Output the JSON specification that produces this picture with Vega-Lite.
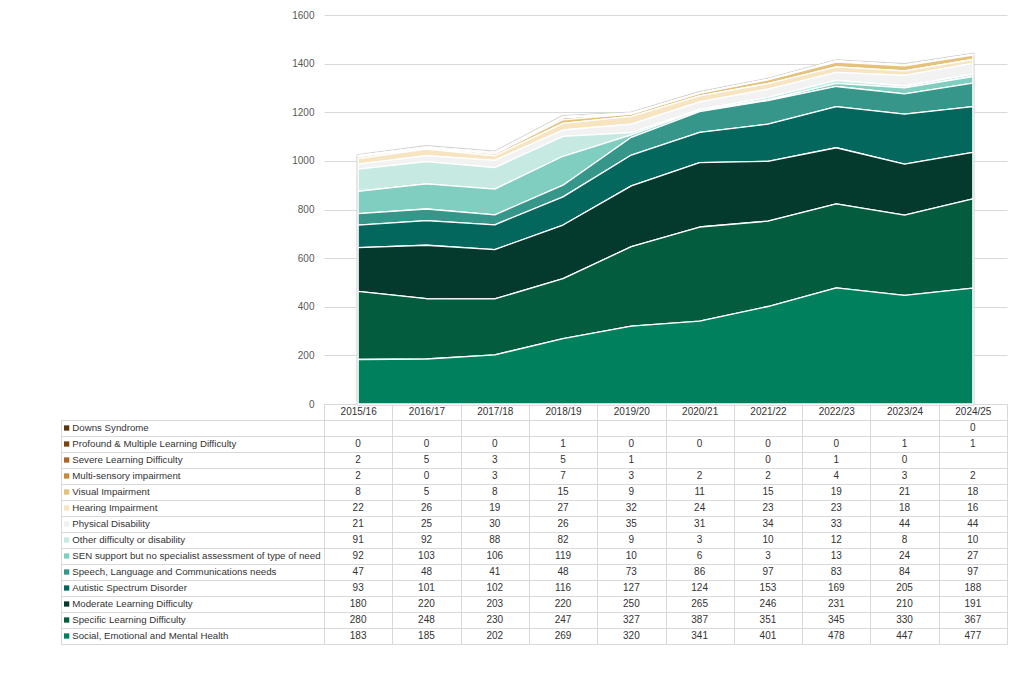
{
  "$schema": "https://vega.github.io/schema/vega-lite/v6.json",
  "padding": {"left": 60, "top": 10, "right": 18, "bottom": 32},
  "background": "white",
  "config": {
    "font": "Liberation Sans",
    "view": {"stroke": null},
    "concat": {"spacing": 0}
  },
  "datasets": {
    "sen": [
      {"s": "Profound & Multiple Learning Difficulty", "y": "2015/16", "v": 0},
      {"s": "Profound & Multiple Learning Difficulty", "y": "2016/17", "v": 0},
      {"s": "Profound & Multiple Learning Difficulty", "y": "2017/18", "v": 0},
      {"s": "Profound & Multiple Learning Difficulty", "y": "2018/19", "v": 1},
      {"s": "Profound & Multiple Learning Difficulty", "y": "2019/20", "v": 0},
      {"s": "Profound & Multiple Learning Difficulty", "y": "2020/21", "v": 0},
      {"s": "Profound & Multiple Learning Difficulty", "y": "2021/22", "v": 0},
      {"s": "Profound & Multiple Learning Difficulty", "y": "2022/23", "v": 0},
      {"s": "Profound & Multiple Learning Difficulty", "y": "2023/24", "v": 1},
      {"s": "Profound & Multiple Learning Difficulty", "y": "2024/25", "v": 1},
      {"s": "Downs Syndrome", "y": "2024/25", "v": 0},
      {"s": "Severe Learning Difficulty", "y": "2015/16", "v": 2},
      {"s": "Severe Learning Difficulty", "y": "2016/17", "v": 5},
      {"s": "Severe Learning Difficulty", "y": "2017/18", "v": 3},
      {"s": "Severe Learning Difficulty", "y": "2018/19", "v": 5},
      {"s": "Severe Learning Difficulty", "y": "2019/20", "v": 1},
      {"s": "Severe Learning Difficulty", "y": "2021/22", "v": 0},
      {"s": "Severe Learning Difficulty", "y": "2022/23", "v": 1},
      {"s": "Severe Learning Difficulty", "y": "2023/24", "v": 0},
      {"s": "Multi-sensory impairment", "y": "2015/16", "v": 2},
      {"s": "Multi-sensory impairment", "y": "2016/17", "v": 0},
      {"s": "Multi-sensory impairment", "y": "2017/18", "v": 3},
      {"s": "Multi-sensory impairment", "y": "2018/19", "v": 7},
      {"s": "Multi-sensory impairment", "y": "2019/20", "v": 3},
      {"s": "Multi-sensory impairment", "y": "2020/21", "v": 2},
      {"s": "Multi-sensory impairment", "y": "2021/22", "v": 2},
      {"s": "Multi-sensory impairment", "y": "2022/23", "v": 4},
      {"s": "Multi-sensory impairment", "y": "2023/24", "v": 3},
      {"s": "Multi-sensory impairment", "y": "2024/25", "v": 2},
      {"s": "Visual Impairment", "y": "2015/16", "v": 8},
      {"s": "Visual Impairment", "y": "2016/17", "v": 5},
      {"s": "Visual Impairment", "y": "2017/18", "v": 8},
      {"s": "Visual Impairment", "y": "2018/19", "v": 15},
      {"s": "Visual Impairment", "y": "2019/20", "v": 9},
      {"s": "Visual Impairment", "y": "2020/21", "v": 11},
      {"s": "Visual Impairment", "y": "2021/22", "v": 15},
      {"s": "Visual Impairment", "y": "2022/23", "v": 19},
      {"s": "Visual Impairment", "y": "2023/24", "v": 21},
      {"s": "Visual Impairment", "y": "2024/25", "v": 18},
      {"s": "Hearing Impairment", "y": "2015/16", "v": 22},
      {"s": "Hearing Impairment", "y": "2016/17", "v": 26},
      {"s": "Hearing Impairment", "y": "2017/18", "v": 19},
      {"s": "Hearing Impairment", "y": "2018/19", "v": 27},
      {"s": "Hearing Impairment", "y": "2019/20", "v": 32},
      {"s": "Hearing Impairment", "y": "2020/21", "v": 24},
      {"s": "Hearing Impairment", "y": "2021/22", "v": 23},
      {"s": "Hearing Impairment", "y": "2022/23", "v": 23},
      {"s": "Hearing Impairment", "y": "2023/24", "v": 18},
      {"s": "Hearing Impairment", "y": "2024/25", "v": 16},
      {"s": "Physical Disability", "y": "2015/16", "v": 21},
      {"s": "Physical Disability", "y": "2016/17", "v": 25},
      {"s": "Physical Disability", "y": "2017/18", "v": 30},
      {"s": "Physical Disability", "y": "2018/19", "v": 26},
      {"s": "Physical Disability", "y": "2019/20", "v": 35},
      {"s": "Physical Disability", "y": "2020/21", "v": 31},
      {"s": "Physical Disability", "y": "2021/22", "v": 34},
      {"s": "Physical Disability", "y": "2022/23", "v": 33},
      {"s": "Physical Disability", "y": "2023/24", "v": 44},
      {"s": "Physical Disability", "y": "2024/25", "v": 44},
      {"s": "Other difficulty or disability", "y": "2015/16", "v": 91},
      {"s": "Other difficulty or disability", "y": "2016/17", "v": 92},
      {"s": "Other difficulty or disability", "y": "2017/18", "v": 88},
      {"s": "Other difficulty or disability", "y": "2018/19", "v": 82},
      {"s": "Other difficulty or disability", "y": "2019/20", "v": 9},
      {"s": "Other difficulty or disability", "y": "2020/21", "v": 3},
      {"s": "Other difficulty or disability", "y": "2021/22", "v": 10},
      {"s": "Other difficulty or disability", "y": "2022/23", "v": 12},
      {"s": "Other difficulty or disability", "y": "2023/24", "v": 8},
      {"s": "Other difficulty or disability", "y": "2024/25", "v": 10},
      {"s": "SEN support but no specialist assessment of type of need", "y": "2015/16", "v": 92},
      {"s": "SEN support but no specialist assessment of type of need", "y": "2016/17", "v": 103},
      {"s": "SEN support but no specialist assessment of type of need", "y": "2017/18", "v": 106},
      {"s": "SEN support but no specialist assessment of type of need", "y": "2018/19", "v": 119},
      {"s": "SEN support but no specialist assessment of type of need", "y": "2019/20", "v": 10},
      {"s": "SEN support but no specialist assessment of type of need", "y": "2020/21", "v": 6},
      {"s": "SEN support but no specialist assessment of type of need", "y": "2021/22", "v": 3},
      {"s": "SEN support but no specialist assessment of type of need", "y": "2022/23", "v": 13},
      {"s": "SEN support but no specialist assessment of type of need", "y": "2023/24", "v": 24},
      {"s": "SEN support but no specialist assessment of type of need", "y": "2024/25", "v": 27},
      {"s": "Speech, Language and Communications needs", "y": "2015/16", "v": 47},
      {"s": "Speech, Language and Communications needs", "y": "2016/17", "v": 48},
      {"s": "Speech, Language and Communications needs", "y": "2017/18", "v": 41},
      {"s": "Speech, Language and Communications needs", "y": "2018/19", "v": 48},
      {"s": "Speech, Language and Communications needs", "y": "2019/20", "v": 73},
      {"s": "Speech, Language and Communications needs", "y": "2020/21", "v": 86},
      {"s": "Speech, Language and Communications needs", "y": "2021/22", "v": 97},
      {"s": "Speech, Language and Communications needs", "y": "2022/23", "v": 83},
      {"s": "Speech, Language and Communications needs", "y": "2023/24", "v": 84},
      {"s": "Speech, Language and Communications needs", "y": "2024/25", "v": 97},
      {"s": "Autistic Spectrum Disorder", "y": "2015/16", "v": 93},
      {"s": "Autistic Spectrum Disorder", "y": "2016/17", "v": 101},
      {"s": "Autistic Spectrum Disorder", "y": "2017/18", "v": 102},
      {"s": "Autistic Spectrum Disorder", "y": "2018/19", "v": 116},
      {"s": "Autistic Spectrum Disorder", "y": "2019/20", "v": 127},
      {"s": "Autistic Spectrum Disorder", "y": "2020/21", "v": 124},
      {"s": "Autistic Spectrum Disorder", "y": "2021/22", "v": 153},
      {"s": "Autistic Spectrum Disorder", "y": "2022/23", "v": 169},
      {"s": "Autistic Spectrum Disorder", "y": "2023/24", "v": 205},
      {"s": "Autistic Spectrum Disorder", "y": "2024/25", "v": 188},
      {"s": "Moderate Learning Difficulty", "y": "2015/16", "v": 180},
      {"s": "Moderate Learning Difficulty", "y": "2016/17", "v": 220},
      {"s": "Moderate Learning Difficulty", "y": "2017/18", "v": 203},
      {"s": "Moderate Learning Difficulty", "y": "2018/19", "v": 220},
      {"s": "Moderate Learning Difficulty", "y": "2019/20", "v": 250},
      {"s": "Moderate Learning Difficulty", "y": "2020/21", "v": 265},
      {"s": "Moderate Learning Difficulty", "y": "2021/22", "v": 246},
      {"s": "Moderate Learning Difficulty", "y": "2022/23", "v": 231},
      {"s": "Moderate Learning Difficulty", "y": "2023/24", "v": 210},
      {"s": "Moderate Learning Difficulty", "y": "2024/25", "v": 191},
      {"s": "Specific Learning Difficulty", "y": "2015/16", "v": 280},
      {"s": "Specific Learning Difficulty", "y": "2016/17", "v": 248},
      {"s": "Specific Learning Difficulty", "y": "2017/18", "v": 230},
      {"s": "Specific Learning Difficulty", "y": "2018/19", "v": 247},
      {"s": "Specific Learning Difficulty", "y": "2019/20", "v": 327},
      {"s": "Specific Learning Difficulty", "y": "2020/21", "v": 387},
      {"s": "Specific Learning Difficulty", "y": "2021/22", "v": 351},
      {"s": "Specific Learning Difficulty", "y": "2022/23", "v": 345},
      {"s": "Specific Learning Difficulty", "y": "2023/24", "v": 330},
      {"s": "Specific Learning Difficulty", "y": "2024/25", "v": 367},
      {"s": "Social, Emotional and Mental Health", "y": "2015/16", "v": 183},
      {"s": "Social, Emotional and Mental Health", "y": "2016/17", "v": 185},
      {"s": "Social, Emotional and Mental Health", "y": "2017/18", "v": 202},
      {"s": "Social, Emotional and Mental Health", "y": "2018/19", "v": 269},
      {"s": "Social, Emotional and Mental Health", "y": "2019/20", "v": 320},
      {"s": "Social, Emotional and Mental Health", "y": "2020/21", "v": 341},
      {"s": "Social, Emotional and Mental Health", "y": "2021/22", "v": 401},
      {"s": "Social, Emotional and Mental Health", "y": "2022/23", "v": 478},
      {"s": "Social, Emotional and Mental Health", "y": "2023/24", "v": 447},
      {"s": "Social, Emotional and Mental Health", "y": "2024/25", "v": 477}
    ]
  },
  "columns": 2,
  "bounds": "flush",
  "spacing": {"row": 16, "column": 0},
  "concat": [
    {
      "width": 263,
      "height": 389,
      "data": {"values": []},
      "mark": "point"
    },
    {
      "width": 683,
      "height": 389,
      "data": {"name": "sen"},
      "encoding": {
        "x": {
          "field": "y",
          "type": "ordinal",
          "bandPosition": 0.5,
          "sort": ["2015/16", "2016/17", "2017/18", "2018/19", "2019/20", "2020/21", "2021/22", "2022/23", "2023/24", "2024/25"],
          "scale": {"type": "band", "paddingInner": 0, "paddingOuter": 0},
          "axis": {
            "title": null,
            "labelAngle": 0,
            "labelFontSize": 10,
            "labelColor": "#333333",
            "labelBaseline": "middle",
            "labelPadding": -9,
            "tickBand": "extent",
            "tickSize": 16,
            "tickColor": "#d9d9d9",
            "domainColor": "#d9d9d9",
            "grid": false
          }
        }
      },
      "layer": [
        {
          "mark": {"type": "area", "fill": "white", "stroke": "#d4d4d4", "strokeWidth": 3.5, "strokeJoin": "round"},
          "encoding": {
            "y": {
              "aggregate": "sum",
              "field": "v",
              "type": "quantitative",
              "scale": {"domain": [0, 1600]},
              "axis": {
                "title": null,
                "format": "d",
                "values": [0, 200, 400, 600, 800, 1000, 1200, 1400, 1600],
                "labelFontSize": 10,
                "labelColor": "#595959",
                "labelPadding": 10,
                "ticks": false,
                "domain": false,
                "gridColor": "#d9d9d9"
              }
            }
          }
        },
        {
          "transform": [
            {
              "calculate": "indexof(['Social, Emotional and Mental Health', 'Specific Learning Difficulty', 'Moderate Learning Difficulty', 'Autistic Spectrum Disorder', 'Speech, Language and Communications needs', 'SEN support but no specialist assessment of type of need', 'Other difficulty or disability', 'Physical Disability', 'Hearing Impairment', 'Visual Impairment', 'Multi-sensory impairment', 'Severe Learning Difficulty', 'Profound & Multiple Learning Difficulty', 'Downs Syndrome'], datum.s)",
              "as": "stackRank"
            }
          ],
          "mark": {"type": "area", "stroke": "white", "strokeWidth": 1.3, "strokeJoin": "round"},
          "encoding": {
            "y": {"field": "v", "type": "quantitative", "stack": "zero"},
            "order": {"field": "stackRank", "type": "quantitative", "sort": "ascending"},
            "color": {
              "field": "s",
              "type": "nominal",
              "legend": null,
              "scale": {
                "domain": [
                  "Social, Emotional and Mental Health",
                  "Specific Learning Difficulty",
                  "Moderate Learning Difficulty",
                  "Autistic Spectrum Disorder",
                  "Speech, Language and Communications needs",
                  "SEN support but no specialist assessment of type of need",
                  "Other difficulty or disability",
                  "Physical Disability",
                  "Hearing Impairment",
                  "Visual Impairment",
                  "Multi-sensory impairment",
                  "Severe Learning Difficulty",
                  "Profound & Multiple Learning Difficulty",
                  "Downs Syndrome"
                ],
                "range": ["#00805c", "#035c3e", "#033a2d", "#04675d", "#36968a", "#80cebf", "#c6eae2", "#f2f2f2", "#f7e5c1", "#e4c17d", "#c88a3a", "#a9652a", "#7b4212", "#5a3510"]
              }
            }
          }
        }
      ]
    },
    {
      "width": 263,
      "height": 224,
      "view": {"stroke": "#d9d9d9"},
      "data": {"name": "sen"},
      "transform": [{"aggregate": [{"op": "count", "as": "n"}], "groupby": ["s"]}],
      "encoding": {
        "y": {
          "field": "s",
          "type": "nominal",
          "scale": {
            "type": "band",
            "paddingInner": 0,
            "paddingOuter": 0,
            "domain": [
              "Downs Syndrome",
              "Profound & Multiple Learning Difficulty",
              "Severe Learning Difficulty",
              "Multi-sensory impairment",
              "Visual Impairment",
              "Hearing Impairment",
              "Physical Disability",
              "Other difficulty or disability",
              "SEN support but no specialist assessment of type of need",
              "Speech, Language and Communications needs",
              "Autistic Spectrum Disorder",
              "Moderate Learning Difficulty",
              "Specific Learning Difficulty",
              "Social, Emotional and Mental Health"
            ]
          },
          "axis": {
            "title": null,
            "labels": false,
            "ticks": false,
            "domain": false,
            "grid": true,
            "tickBand": "extent",
            "gridColor": "#d9d9d9"
          }
        }
      },
      "layer": [
        {
          "mark": {"type": "point", "shape": "square", "filled": true, "opacity": 1, "size": 28},
          "encoding": {
            "x": {"datum": 6, "type": "quantitative", "scale": {"domain": [0, 263]}, "axis": null},
            "color": {
              "field": "s",
              "type": "nominal",
              "legend": null,
              "scale": {
                "domain": [
                  "Social, Emotional and Mental Health",
                  "Specific Learning Difficulty",
                  "Moderate Learning Difficulty",
                  "Autistic Spectrum Disorder",
                  "Speech, Language and Communications needs",
                  "SEN support but no specialist assessment of type of need",
                  "Other difficulty or disability",
                  "Physical Disability",
                  "Hearing Impairment",
                  "Visual Impairment",
                  "Multi-sensory impairment",
                  "Severe Learning Difficulty",
                  "Profound & Multiple Learning Difficulty",
                  "Downs Syndrome"
                ],
                "range": ["#00805c", "#035c3e", "#033a2d", "#04675d", "#36968a", "#80cebf", "#c6eae2", "#f2f2f2", "#f7e5c1", "#e4c17d", "#c88a3a", "#a9652a", "#7b4212", "#5a3510"]
              }
            }
          }
        },
        {
          "mark": {"type": "text", "align": "left", "baseline": "middle", "fontSize": 9.7, "color": "#333333"},
          "encoding": {
            "x": {"datum": 12, "type": "quantitative"},
            "text": {"field": "s"}
          }
        }
      ]
    },
    {
      "width": 683,
      "height": 224,
      "view": {"stroke": "#d9d9d9"},
      "data": {"name": "sen"},
      "mark": {"type": "text", "fontSize": 10, "color": "#333333", "baseline": "middle"},
      "encoding": {
        "x": {
          "field": "y",
          "type": "ordinal",
          "sort": ["2015/16", "2016/17", "2017/18", "2018/19", "2019/20", "2020/21", "2021/22", "2022/23", "2023/24", "2024/25"],
          "scale": {"type": "band", "paddingInner": 0, "paddingOuter": 0},
          "axis": {
            "title": null,
            "labels": false,
            "ticks": false,
            "domain": false,
            "grid": true,
            "tickBand": "extent",
            "gridColor": "#d9d9d9"
          }
        },
        "y": {
          "field": "s",
          "type": "nominal",
          "scale": {
            "type": "band",
            "paddingInner": 0,
            "paddingOuter": 0,
            "domain": [
              "Downs Syndrome",
              "Profound & Multiple Learning Difficulty",
              "Severe Learning Difficulty",
              "Multi-sensory impairment",
              "Visual Impairment",
              "Hearing Impairment",
              "Physical Disability",
              "Other difficulty or disability",
              "SEN support but no specialist assessment of type of need",
              "Speech, Language and Communications needs",
              "Autistic Spectrum Disorder",
              "Moderate Learning Difficulty",
              "Specific Learning Difficulty",
              "Social, Emotional and Mental Health"
            ]
          },
          "axis": {
            "title": null,
            "labels": false,
            "ticks": false,
            "domain": false,
            "grid": true,
            "tickBand": "extent",
            "gridColor": "#d9d9d9"
          }
        },
        "text": {"field": "v", "type": "quantitative"}
      }
    }
  ]
}
